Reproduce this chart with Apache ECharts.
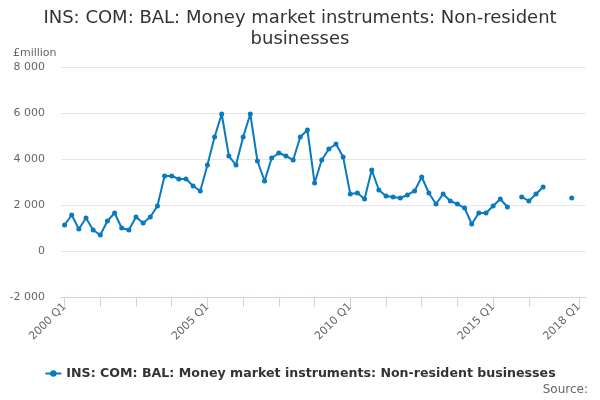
<!DOCTYPE html>
<html><head><meta charset="utf-8">
<script src="https://cdn.jsdelivr.net/npm/echarts@6/dist/echarts.min.js"></script>
<style>html,body{margin:0;padding:0;background:#fff}#c{width:600px;height:400px}</style>
</head><body><div id="c"></div>
<script>
const years = [];
for (let y = 2000; y <= 2018; y++) for (let q = 1; q <= 4; q++) years.push(y + ' Q' + q);
const categories = years.slice(0, 73); // 2000 Q1 .. 2018 Q1
const values = [
  1130, 1565, 957, 1435, 913, 696, 1304, 1652, 1000, 913,
  1478, 1217, 1478, 1957, 3260, 3260, 3130, 3130, 2826, 2609,
  3739, 4957, 5957, 4130, 3739, 4957, 5957, 3913, 3043, 4043,
  4261, 4130, 3957, 4957, 5261, 2957, 3957, 4435, 4652, 4087,
  2478, 2522, 2261, 3522, 2652, 2391, 2348, 2304, 2435, 2609,
  3217, 2522, 2043, 2478, 2174, 2043, 1870, 1174, 1652, 1652,
  1957, 2261, 1913, null, 2348, 2174, 2478, 2783, null, null,
  null, 2304, null
];
const tickIdx = [0,5,10,15,20,25,30,35,40,45,50,55,60,65,72];
const labelIdx = [0,20,40,60,72];
const seriesName = 'INS: COM: BAL: Money market instruments: Non-resident businesses';
const FONT = 'DejaVu Sans';
const chart = echarts.init(document.getElementById('c'), null, {renderer: 'canvas'});
chart.setOption({
  animation: false,
  textStyle: {fontFamily: FONT},
  title: {
    text: 'INS: COM: BAL: Money market instruments: Non-resident\nbusinesses',
    left: 'center', top: 3,
    textStyle: {fontFamily: FONT, fontSize: 18, fontWeight: 'normal', color: '#333', lineHeight: 21}
  },
  graphic: [
    {type: 'text', right: 12, top: 384, style: {text: 'Source:', fontFamily: FONT, fontSize: 12, fill: '#666'}}
  ],
  legend: {
    bottom: 15, left: 'center',
    itemWidth: 16, itemHeight: 8, itemGap: 5,
    textStyle: {fontFamily: FONT, fontSize: 12.6, fontWeight: 'bold', color: '#333'},
    data: [seriesName]
  },
  grid: {left: 61, right: 14, top: 67, bottom: 103},
  xAxis: {
    type: 'value', min: -0.5, max: 73,
    splitLine: {show: false},
    axisLine: {onZero: false, lineStyle: {color: '#ccd6eb'}},
    axisTick: {show: true, customValues: tickIdx, length: 10, lineStyle: {color: '#ccd6eb'}},
    axisLabel: {
      customValues: labelIdx, rotate: 45, color: '#666', fontSize: 11, fontFamily: FONT,
      formatter: v => categories[Math.round(v)] || ''
    }
  },
  yAxis: {
    type: 'value', min: -2000, max: 8000, interval: 2000,
    name: '£million', nameLocation: 'end', nameGap: 8,
    nameTextStyle: {color: '#666', fontSize: 11, fontFamily: FONT, align: 'right', padding: [0, 8, 0, 0]},
    axisLine: {show: false}, axisTick: {show: false},
    splitLine: {lineStyle: {color: '#e6e6e6'}},
    axisLabel: {color: '#666', fontSize: 11, fontFamily: FONT, margin: 16,
      formatter: v => String(v).replace(/\B(?=(\d{3})+(?!\d))/g, ' ')}
  },
  series: [{
    name: seriesName, type: 'line',
    data: values.map((v, i) => [i, v]),
    connectNulls: false,
    symbol: 'circle', symbolSize: 5, showSymbol: true,
    itemStyle: {color: '#0a7abf'},
    lineStyle: {width: 2, color: '#0a7abf'}
  }]
});
</script></body></html>
